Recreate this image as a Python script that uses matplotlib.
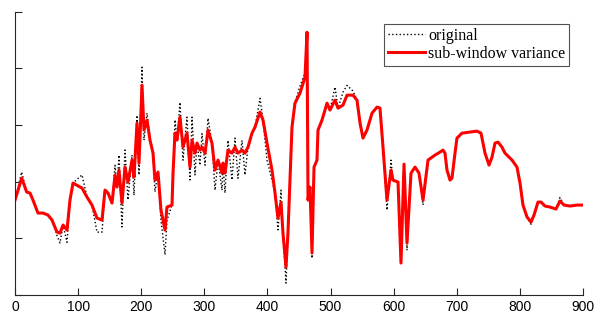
import matplotlib
matplotlib.use("Agg")
import matplotlib.pyplot as plt

x = [0, 10.6, 18.5, 23.8, 28.5, 36.4, 44.4, 52.3, 58.6, 66.5, 71.3, 76.1, 82.4, 87.1, 91.9,
     106.2, 114.1, 122.0, 129.9, 137.9, 142.6, 147.4, 153.7, 158.5, 161.6, 164.8, 169.5, 174.3,
     179.0, 185.4, 188.6, 193.3, 196.5, 201.2, 204.4, 209.2, 213.9, 218.7, 221.8, 226.6, 231.3,
     237.7, 240.8, 248.8, 250.4, 253.5, 256.7, 261.4, 266.2, 272.5, 277.3, 280.5, 285.2, 288.4,
     293.1, 296.3, 301.1, 305.8, 312.1, 316.9, 321.7, 328.0, 329.6, 332.7, 337.5, 343.8, 348.6,
     353.3, 359.7, 364.4, 369.2, 375.5, 380.3, 388.2, 393.0, 399.3, 407.2, 412.0, 416.7, 421.5,
     424.6, 429.4, 432.5, 438.9, 443.6, 451.6, 459.5, 462.7, 464.3,
     467.4, 470.6, 473.8, 478.5, 480.1, 486.4, 494.4, 499.1, 507.0, 511.8, 519.7, 526.1, 535.6,
     541.9, 546.7, 551.4, 557.7, 565.7, 573.6, 578.3, 583.1, 589.4, 595.8, 598.9, 606.9, 611.6,
     616.4, 621.1, 627.5, 633.8, 640.1, 646.5, 654.4, 665.5, 673.4, 678.2, 681.3, 684.5, 689.3,
     692.4, 697.2, 700.3, 708.3, 721.0, 732.0, 738.4, 744.7, 751.1, 755.8, 760.6, 765.4, 771.6,
     776.4, 787.5, 795.4, 800.2, 804.9, 811.3, 817.6, 822.4, 828.7, 833.5, 839.8, 847.7, 857.2,
     863.5, 869.9, 879.4, 890.5, 898.4]

variance = [1.675, 2.063, 1.817, 1.799, 1.675, 1.446, 1.446, 1.411, 1.323, 1.111, 1.093, 1.235,
            1.146, 1.675, 1.975, 1.887, 1.728, 1.587, 1.358, 1.323, 1.852, 1.799, 1.623, 2.116,
            1.905, 2.205, 1.623, 2.257, 1.993, 2.381, 2.081, 3.034, 2.328, 3.704, 2.910, 3.086,
            2.734, 2.504, 2.028, 2.169, 1.499, 1.146, 1.552, 1.587, 2.152, 2.857, 2.734, 3.139,
            2.610, 2.857, 2.257, 2.734, 2.504, 2.681, 2.557, 2.610, 2.504, 2.910, 2.681, 2.205,
            2.381, 2.152, 2.328, 2.152, 2.557, 2.504, 2.610, 2.504, 2.557, 2.504, 2.610, 2.857,
            2.963, 3.228, 3.086, 2.681, 2.205, 1.799, 1.358, 1.640, 1.093, 0.494, 1.093, 2.963,
            3.386, 3.563, 3.845, 4.638, 1.675,
            1.905, 0.741, 2.257, 2.381, 2.910, 3.086, 3.386, 3.263, 3.439, 3.298, 3.351, 3.527, 3.527,
            3.439, 3.034, 2.769, 2.910, 3.210, 3.316, 3.298, 2.610, 1.675, 2.205, 2.028, 1.993, 0.564,
            2.310, 0.917, 2.152, 2.257, 2.152, 1.675, 2.381, 2.469, 2.522, 2.557, 2.504, 2.205, 2.028,
            2.063, 2.504, 2.769, 2.857, 2.875, 2.892, 2.857, 2.504, 2.293, 2.434, 2.681, 2.698, 2.610,
            2.504, 2.381, 2.257, 1.975, 1.587, 1.376, 1.287, 1.411, 1.640, 1.640, 1.570, 1.552, 1.517,
            1.658, 1.587, 1.570, 1.587, 1.587]

original = [1.675, 2.17, 1.817, 1.799, 1.675, 1.446, 1.446, 1.411, 1.323, 1.05, 0.92, 1.235,
            0.93, 1.675, 1.975, 2.12, 1.728, 1.587, 1.11, 1.11, 1.852, 1.799, 1.623, 2.29,
            1.905, 2.47, 1.20, 2.56, 1.68, 2.47, 1.76, 3.17, 2.12, 4.02, 2.73, 3.21,
            2.734, 2.504, 1.82, 2.169, 1.32, 0.71, 1.32, 1.587, 2.152, 3.09, 2.734, 3.40,
            2.38, 3.14, 2.03, 3.14, 2.12, 2.681, 2.29, 2.85, 2.29, 3.12, 2.681, 1.85,
            2.381, 1.85, 2.328, 1.80, 2.73, 2.03, 2.77, 2.06, 2.73, 2.12, 2.610, 2.857,
            2.963, 3.47, 3.086, 2.38, 2.03, 1.799, 1.15, 1.85, 1.093, 0.21, 1.093, 2.963,
            3.386, 3.69, 3.92, 4.638, 1.675,
            1.905, 0.65, 2.257, 2.381, 2.910, 3.086, 3.386, 3.263, 3.67, 3.298, 3.58, 3.70, 3.60,
            3.439, 3.034, 2.769, 2.910, 3.210, 3.316, 3.298, 2.610, 1.50, 2.38, 2.028, 1.993, 0.564,
            2.310, 0.79, 2.152, 2.257, 2.152, 1.59, 2.381, 2.469, 2.522, 2.557, 2.504, 2.205, 2.028,
            2.063, 2.504, 2.769, 2.857, 2.875, 2.892, 2.857, 2.504, 2.293, 2.434, 2.681, 2.698, 2.610,
            2.504, 2.381, 2.257, 1.975, 1.587, 1.376, 1.25, 1.411, 1.640, 1.640, 1.570, 1.552, 1.517,
            1.72, 1.587, 1.570, 1.587, 1.587]

xticks = [0, 100, 200, 300, 400, 500, 600, 700, 800, 900]
yticks = [0, 1, 2, 3, 4, 5]

fig = plt.figure(figsize=(5.98, 3.19), dpi=100)
ax = fig.add_axes([15 / 598, 24 / 319, 568 / 598, (295 - 11.7) / 319])

ax.plot(x, original, color="black", linestyle=":", linewidth=1.0, label="original")
ax.plot(x, variance, color="#ff0000", linestyle="-", linewidth=2.2, label="sub-window variance",
        solid_joinstyle="round")

ax.set_xlim(0, 900)
ax.set_ylim(0, 5)
ax.set_xticks(xticks)
ax.set_xticklabels([str(t) for t in xticks], fontfamily="Liberation Sans", fontsize=10)
ax.set_yticks(yticks)
ax.set_yticklabels([])
ax.tick_params(direction="in", length=5, width=0.8, colors="#262626", labelcolor="black")
for s in ["top", "right"]:
    ax.spines[s].set_visible(False)
for s in ["left", "bottom"]:
    ax.spines[s].set_color("#262626")
    ax.spines[s].set_linewidth(0.8)

leg = ax.legend(loc="upper right", bbox_to_anchor=(569 / 598, 1 - 24 / 319),
                bbox_transform=fig.transFigure,
                prop={"family": "Liberation Serif", "size": 11.5},
                frameon=True, fancybox=False, shadow=False, borderpad=0.25,
                labelspacing=0.1, handlelength=2.3, handletextpad=0.2, borderaxespad=0)
leg.get_frame().set_edgecolor("#262626")
leg.get_frame().set_linewidth(0.8)

fig.savefig("out.png", dpi=100)
